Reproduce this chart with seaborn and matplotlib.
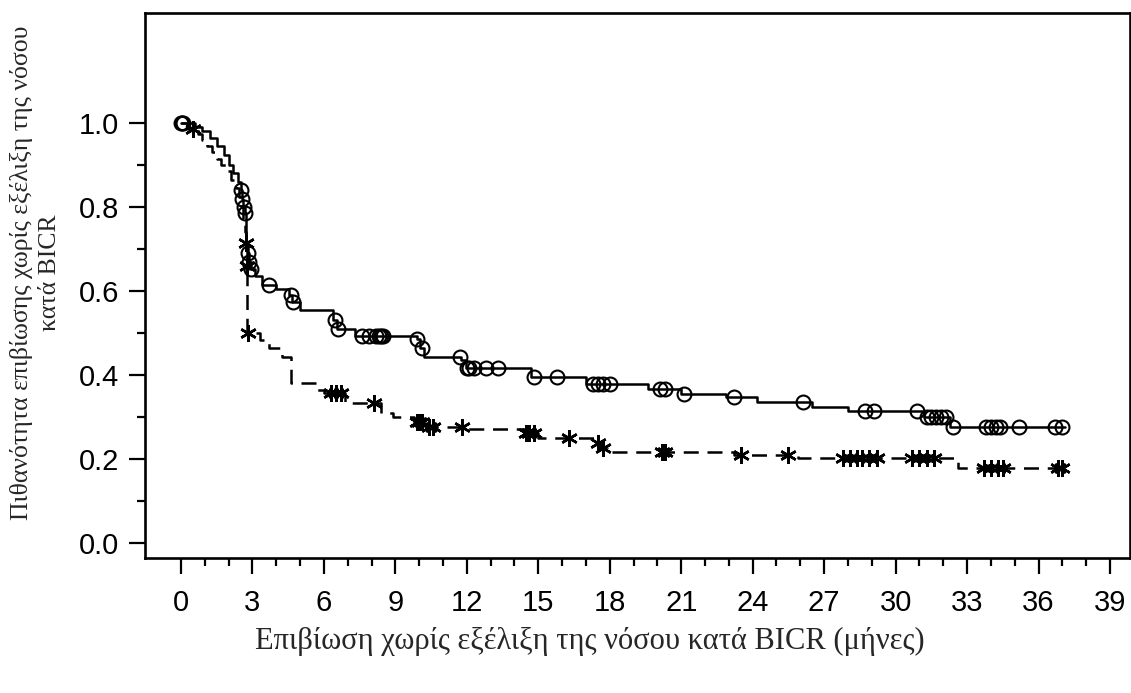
import numpy as np
import matplotlib
matplotlib.use("Agg")
import matplotlib.pyplot as plt
import seaborn as sns

# ---- data: Kaplan-Meier step curves (time in months, survival probability) ----
solid_times = [0, 0.6, 0.9, 1.2, 1.5, 1.8, 2.0, 2.2, 2.4, 2.52, 2.57, 2.62, 2.68, 2.74, 2.80, 2.86, 2.92,
               3.1, 3.4, 4.0, 4.55, 4.65, 5.0, 6.4, 6.55, 7.3, 9.9, 10.05, 10.2, 11.75, 11.95, 14.7, 17.0,
               19.6, 21.0, 22.9, 24.2, 26.5, 28.0, 31.2, 32.3]
solid_surv = [1.0, 0.99, 0.98, 0.965, 0.945, 0.925, 0.90, 0.88, 0.86, 0.84, 0.82, 0.80, 0.786, 0.71, 0.69,
              0.67, 0.652, 0.635, 0.615, 0.605, 0.59, 0.575, 0.555, 0.53, 0.51, 0.492, 0.485, 0.465, 0.443,
              0.435, 0.417, 0.395, 0.378, 0.366, 0.355, 0.348, 0.336, 0.324, 0.314, 0.30, 0.276]
solid_censor = [0.0, 0.05, 0.1, 2.53, 2.58, 2.63, 2.69, 2.81, 2.87, 2.95, 3.7, 4.6, 4.7, 6.45, 6.6,
                7.6, 7.9, 8.2, 8.3, 8.4, 8.5, 9.9, 10.1, 11.7, 12.0, 12.1, 12.3, 12.8, 13.3, 14.8, 15.8,
                17.3, 17.5, 17.7, 18.0, 20.1, 20.3, 21.1, 23.2, 26.1, 28.7, 29.1, 30.9, 31.3, 31.5, 31.7,
                31.9, 32.1, 32.4, 33.8, 34.0, 34.2, 34.4, 35.2, 36.7, 37.0]

dashed_times = [0, 0.3, 0.7, 0.9, 1.1, 1.3, 1.5, 1.7, 1.9, 2.1, 2.3, 2.45, 2.55, 2.62, 2.68, 2.72, 2.76,
                2.79, 3.3, 3.7, 4.25, 4.6, 5.7, 6.0, 6.9, 8.4, 8.9, 9.8, 10.3, 12.0, 14.4, 15.0, 17.4,
                17.6, 17.9, 23.2, 25.9, 32.6]
dashed_surv = [1.0, 0.985, 0.975, 0.96, 0.945, 0.93, 0.915, 0.90, 0.885, 0.865, 0.845, 0.825, 0.80, 0.77,
               0.74, 0.714, 0.66, 0.50, 0.483, 0.464, 0.443, 0.38, 0.364, 0.357, 0.333, 0.31, 0.30, 0.288,
               0.276, 0.271, 0.262, 0.25, 0.238, 0.226, 0.217, 0.21, 0.202, 0.179]
dashed_censor = [0.5, 2.73, 2.77, 2.82, 6.3, 6.5, 6.7, 8.1, 9.9, 10.0, 10.1, 10.4, 10.6, 11.8, 14.5, 14.6,
                 14.8, 16.3, 17.5, 17.7, 20.2, 20.3, 23.5, 25.5, 27.8, 28.1, 28.4, 28.6, 28.9, 29.2, 30.7,
                 31.0, 31.3, 31.6, 33.7, 34.0, 34.3, 34.5, 36.8, 37.0]
solid_end = 37.1
dashed_end = 37.1

xticks = list(range(0, 40, 3))
yticks = [0.0, 0.2, 0.4, 0.6, 0.8, 1.0]
xlabel = "Επιβίωση χωρίς εξέλιξη της νόσου κατά BICR (μήνες)"
ylabel_lines = ["Πιθανότητα επιβίωσης χωρίς εξέλιξη της νόσου", "κατά BICR"]


def step_at(times, surv, t):
    idx = np.searchsorted(np.asarray(times), np.asarray(t), side="right") - 1
    return np.asarray(surv)[idx]


sns.set_theme(style="ticks")
plt.rcParams["font.family"] = ["Liberation Sans", "DejaVu Sans"]

fig = plt.figure(figsize=(11.31, 6.93), dpi=100)
ax = fig.add_axes([145 / 1131, 1 - 558 / 693, (1130 - 145) / 1131, (558 - 13) / 693])

# step curves
st = list(solid_times) + [solid_end]
ss = list(solid_surv) + [solid_surv[-1]]
dt = list(dashed_times) + [dashed_end]
ds = list(dashed_surv) + [dashed_surv[-1]]

sns.lineplot(x=st, y=ss, ax=ax, drawstyle="steps-post", color="black", lw=1.8,
             estimator=None, sort=False)
sns.lineplot(x=dt, y=ds, ax=ax, drawstyle="steps-post", color="black", lw=1.8,
             estimator=None, sort=False)
ax.lines[-1].set_dashes([6, 3.5])

# censor marks
ax.plot(solid_censor, step_at(solid_times, solid_surv, solid_censor), linestyle="none",
        marker="o", markersize=10, markerfacecolor="none", markeredgecolor="black",
        markeredgewidth=1.5)
ax.plot(dashed_censor, step_at(dashed_times, dashed_surv, dashed_censor), linestyle="none",
        marker=(6, 2, 0), markersize=12, markeredgecolor="black", markeredgewidth=1.8)

ax.set_xlim(-1.51, 39.84)
ax.set_ylim(-0.0357, 1.262)
ax.set_xticks(xticks)
ax.set_xticks(np.arange(0, 40, 1), minor=True)
ax.set_yticks(yticks)
ax.set_yticks(np.arange(0.1, 1.0, 0.2), minor=True)
ax.set_xticklabels([str(v) for v in xticks])
ax.set_yticklabels([f"{v:.1f}" for v in yticks])

for s in ax.spines.values():
    s.set_visible(True)
    s.set_linewidth(1.9)
    s.set_color("black")
ax.tick_params(axis="both", which="major", direction="out", length=11.5, width=1.6,
               color="black", labelsize=21, labelcolor="black")
ax.tick_params(axis="x", which="major", pad=11)
ax.tick_params(axis="y", which="major", pad=7)
ax.tick_params(axis="both", which="minor", direction="out", length=5.8, width=1.6, color="black")
ax.set_xlabel("")
ax.set_ylabel("")
ax.grid(False)

serif = ["Liberation Serif", "DejaVu Serif"]
fig.text(590 / 1131, 1 - 641 / 693, xlabel, ha="center", va="center", fontsize=22, family=serif)
fig.text(22 / 1131, 1 - 273 / 693, ylabel_lines[0], ha="center", va="center", rotation=90,
         fontsize=18.5, family=serif)
fig.text(50 / 1131, 1 - 273 / 693, ylabel_lines[1], ha="center", va="center", rotation=90,
         fontsize=18.5, family=serif)

fig.savefig("out.png", dpi=100, facecolor="white")
